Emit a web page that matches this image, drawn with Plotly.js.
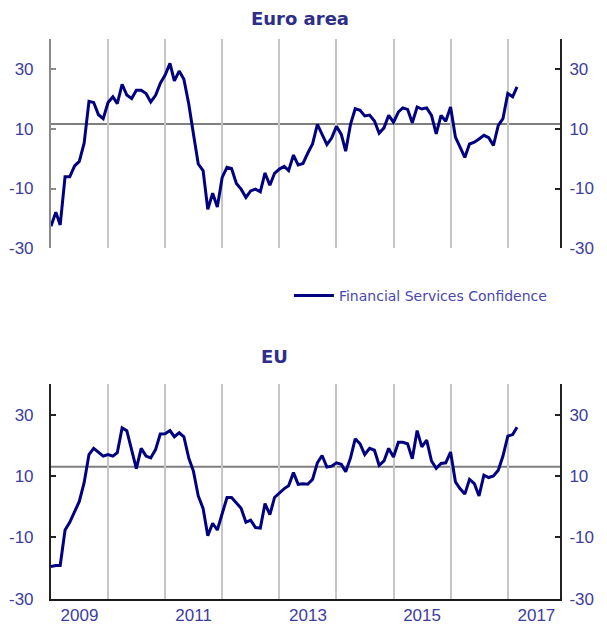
<!DOCTYPE html>
<html>
<head>
<meta charset="utf-8">
<script src="https://cdn.plot.ly/plotly-3.0.1.min.js"></script>
<style>html,body{margin:0;padding:0;background:#fff;}#chart{width:607px;height:630px;}</style>
</head>
<body>
<div id="chart"></div>
<script>
// ---- data ----
const startMonth = '2009-01';
const euroArea = [
  -22.6, -17.9, -22.2, -6.1, -6.1, -2.4, -0.9, 5.2, 19.2, 18.8, 14.7, 13.4,
  18.8, 20.7, 18.4, 24.9, 21.3, 20.1, 22.9, 22.9, 21.8, 19.0, 21.2, 25.2,
  28.0, 31.9, 26.0, 29.3, 26.6, 18.4, 8.3, -1.8, -4.0, -17.0, -11.6, -16.2,
  -6.3, -2.9, -3.3, -8.3, -10.2, -13.0, -10.8, -10.2, -11.1, -4.8, -8.9, -4.9,
  -3.5, -2.6, -4.0, 1.2, -2.1, -1.6, 1.8, 4.9, 11.5, 8.3, 4.7, 6.9,
  10.8, 8.1, 2.5, 11.5, 16.7, 16.2, 14.3, 14.6, 12.6, 8.5, 10.3, 14.5,
  12.2, 15.6, 17.0, 16.5, 12.0, 17.3, 16.6, 17.0, 14.5, 8.3, 14.5, 12.5,
  17.3, 7.2, 3.8, 0.4, 4.9, 5.5, 6.6, 7.8, 7.0, 4.4, 11.1, 13.4,
  21.8, 20.7, 24.0
];
const eu = [
  -19.5, -19.2, -19.2, -7.6, -5.1, -1.4, 1.7, 7.8, 17.0, 19.0, 17.8, 16.5,
  17.0, 16.5, 17.6, 25.7, 24.8, 18.6, 12.4, 19.0, 16.5, 15.9, 18.6, 23.7,
  23.8, 24.8, 22.8, 24.1, 22.8, 15.9, 11.6, 3.5, -0.6, -9.5, -5.4, -7.6,
  -1.9, 3.0, 3.0, 1.1, -0.5, -5.1, -4.4, -6.8, -7.0, 1.0, -2.6, 3.0,
  4.4, 5.9, 6.8, 11.1, 7.3, 7.5, 7.3, 8.9, 14.3, 16.7, 12.9, 13.2,
  14.3, 13.8, 11.4, 15.9, 22.1, 20.5, 17.0, 19.0, 18.4, 13.5, 14.9, 19.0,
  16.2, 21.0, 21.0, 20.5, 15.6, 24.8, 19.5, 21.7, 14.9, 12.5, 14.1, 14.3,
  17.8, 8.1, 5.9, 4.1, 8.9, 7.5, 3.5, 10.3, 9.5, 10.0, 11.9, 16.5,
  23.0, 23.5, 25.9
];
const euroAreaAvg = 11.6;
const euAvg = 13.0;
const yTicks = [30, 10, -10, -30];
const seriesName = 'Financial Services Confidence';
const panelTitles = ['Euro area', 'EU'];

// monthly dates
function monthDates(start, n) {
  const [y0, m0] = start.split('-').map(Number);
  const out = [];
  for (let i = 0; i < n; i++) {
    const t = (m0 - 1) + i;
    const y = y0 + Math.floor(t / 12);
    const m = (t % 12) + 1;
    out.push(y + '-' + String(m).padStart(2, '0') + '-01');
  }
  return out;
}
const datesEA = monthDates(startMonth, euroArea.length);
const datesEU = monthDates(startMonth, eu.length);

// ---- style ----
const navy = '#000080';
const tickColor = '#3d3d9e';
const titleColor = '#2e2e8a';
const gridColor = '#c6c6c6';
const xRange = ['2009-01-01', '2017-12-01'];
const yRange = [-30, 40];
const xDom = [0.084, 0.9226];
const domEA = [0.6059, 0.9379];
const domEU = [0.0497, 0.3905];

const traces = [
  {x: datesEA, y: euroArea, xaxis: 'x', yaxis: 'y', mode: 'lines', name: seriesName,
   line: {color: navy, width: 3}, showlegend: true},
  {x: datesEU, y: eu, xaxis: 'x2', yaxis: 'y2', mode: 'lines', name: seriesName,
   line: {color: navy, width: 3}, showlegend: false},
  {x: datesEA, y: euroArea, xaxis: 'x', yaxis: 'y3', mode: 'none', showlegend: false, hoverinfo: 'skip'},
  {x: datesEU, y: eu, xaxis: 'x2', yaxis: 'y4', mode: 'none', showlegend: false, hoverinfo: 'skip'}
];

const tickFont = {family: 'Liberation Sans, Arial, sans-serif', size: 17, color: tickColor};

function yAx(dom, lineColor, side, overlay, anchor) {
  const a = {
    domain: dom, range: yRange, tickvals: yTicks, ticktext: yTicks.map(String),
    showgrid: false, zeroline: false, showline: true, linecolor: lineColor, linewidth: 2,
    ticks: 'inside', ticklen: 5, tickwidth: 2, tickcolor: lineColor,
    tickfont: tickFont, fixedrange: true, anchor: anchor
  };
  if (side === 'right') {
    a.side = 'right';
    a.overlaying = overlay;
    a.ticklabelstandoff = 4;
  } else {
    a.ticklabelstandoff = 12;
  }
  return a;
}

function xAx(dom, showLabels, showLine, anchor) {
  return {
    type: 'date', domain: dom, range: xRange, anchor: anchor,
    tick0: '2009-01-01', dtick: 'M12', ticklabelmode: 'period', ticklabelstep: 2,
    tickformat: '%Y', showticklabels: showLabels, ticks: '',
    showgrid: true, gridcolor: gridColor, gridwidth: 2,
    zeroline: false, showline: showLine, linecolor: '#1a1a1a', linewidth: 2,
    tickfont: tickFont, fixedrange: true
  };
}

const layout = {
  width: 607, height: 630,
  margin: {l: 0, r: 0, t: 0, b: 0},
  paper_bgcolor: '#ffffff', plot_bgcolor: '#ffffff',
  showlegend: true,
  legend: {
    x: 0.476, y: 1 - 296 / 630, xanchor: 'left', yanchor: 'middle',
    font: {family: 'DejaVu Sans, sans-serif', size: 14, color: '#4848b0'},
    bgcolor: 'rgba(0,0,0,0)', itemwidth: 40
  },
  xaxis: xAx(xDom, false, false, 'y'),
  yaxis: yAx(domEA, '#8a8a8a', 'left', null, 'x'),
  yaxis3: yAx(domEA, '#222222', 'right', 'y', 'x'),
  xaxis2: xAx(xDom, true, true, 'y2'),
  yaxis2: yAx(domEU, '#222222', 'left', null, 'x2'),
  yaxis4: yAx(domEU, '#222222', 'right', 'y2', 'x2'),
  shapes: [
    {type: 'line', xref: 'x domain', yref: 'y', x0: 0, x1: 1, y0: euroAreaAvg, y1: euroAreaAvg,
     line: {color: '#7f7f7f', width: 2}, layer: 'below'},
    {type: 'line', xref: 'x2 domain', yref: 'y2', x0: 0, x1: 1, y0: euAvg, y1: euAvg,
     line: {color: '#7f7f7f', width: 2}, layer: 'below'}
  ],
  annotations: [
    {text: '<b>' + panelTitles[0] + '</b>', xref: 'paper', yref: 'paper', x: 300 / 607, y: 1 - 18 / 630,
     showarrow: false, xanchor: 'center', yanchor: 'middle',
     font: {family: 'DejaVu Sans, sans-serif', size: 18, color: titleColor}},
    {text: '<b>' + panelTitles[1] + '</b>', xref: 'paper', yref: 'paper', x: 274 / 607, y: 1 - 356 / 630,
     showarrow: false, xanchor: 'center', yanchor: 'middle',
     font: {family: 'DejaVu Sans, sans-serif', size: 18, color: titleColor}}
  ]
};

Plotly.newPlot('chart', traces, layout, {displayModeBar: false, staticPlot: true});
</script>
</body>
</html>
